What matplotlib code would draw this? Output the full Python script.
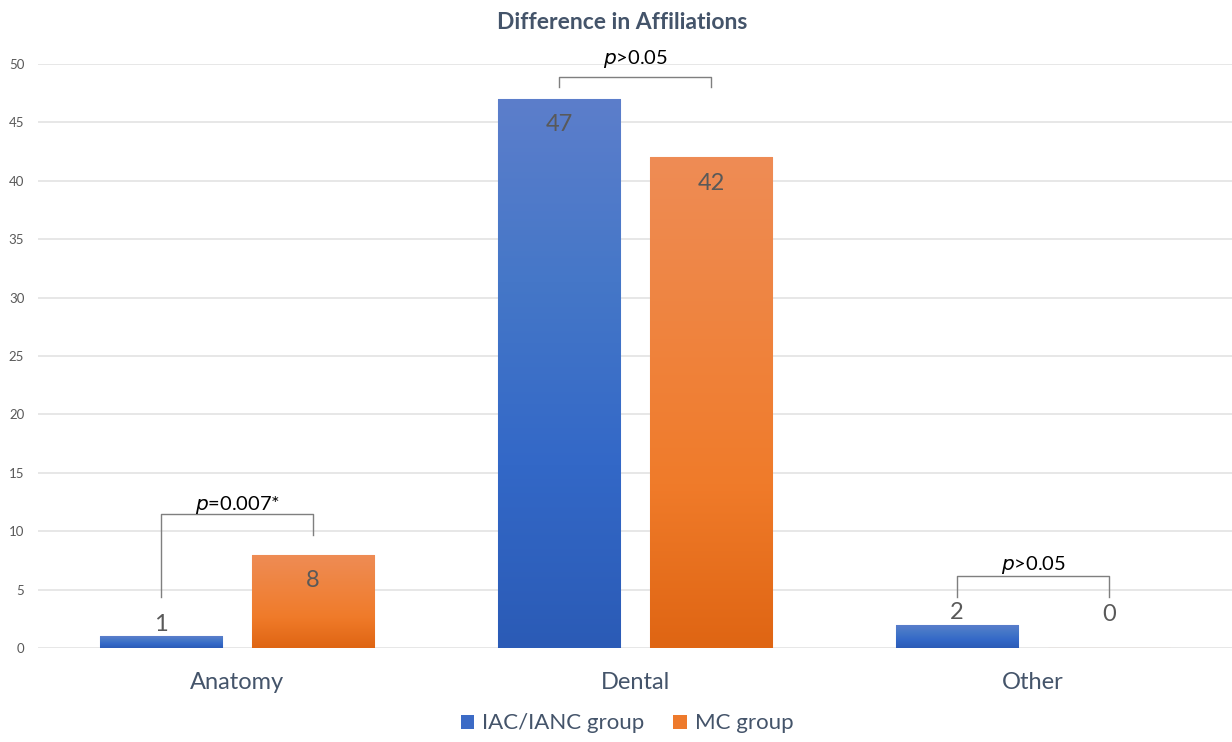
import numpy as np
import matplotlib.pyplot as plt
from matplotlib.colors import LinearSegmentedColormap
from matplotlib.patches import Patch

categories = ["Anatomy", "Dental", "Other"]
series_names = ["IAC/IANC group", "MC group"]
iac_values = [1, 47, 2]
mc_values = [8, 42, 0]
p_labels = ["=0.007*", ">0.05", ">0.05"]

TEXT_DARK = "#44546A"
LABEL_GRAY = "#595959"
GRID = "#E3E3E3"

blue_cmap = LinearSegmentedColormap.from_list(
    "blue_grad", ["#2B5BB6", "#3368C7", "#4577C8", "#5C7ECB"])
orange_cmap = LinearSegmentedColormap.from_list(
    "orange_grad", ["#DF6513", "#F07B2A", "#EF8440", "#EE8C55"])


def gradient_bar(ax, bar, cmap):
    # fill one bar with a vertical gradient, clipped to the bar rectangle
    x0, y0 = bar.get_x(), bar.get_y()
    w, h = bar.get_width(), bar.get_height()
    if h <= 0:
        return
    grad = np.linspace(0, 1, 256).reshape(-1, 1)
    im = ax.imshow(grad, cmap=cmap, origin="lower", aspect="auto",
                   extent=(x0, x0 + w, y0, y0 + h), zorder=2)
    im.set_clip_path(bar)


def main():
    plt.rcParams["font.family"] = ["Lato", "DejaVu Sans"]

    fig = plt.figure(figsize=(12.32, 7.42), dpi=100)
    ax = fig.add_axes([0.031, 0.1267, 0.969, 0.787])

    x = np.arange(len(categories))
    width = 0.307
    offset = 0.191

    bars_a = ax.bar(x - offset, iac_values, width, color="#4472C4",
                    edgecolor="#9DB4E6", linewidth=0.8, zorder=2)
    bars_b = ax.bar(x + offset, mc_values, width, color="#ED7D31",
                    edgecolor="#F5B58C", linewidth=0.8, zorder=2)
    for b in bars_a:
        gradient_bar(ax, b, blue_cmap)
    for b in bars_b:
        gradient_bar(ax, b, orange_cmap)

    ax.set_xlim(-0.5, 2.5)
    ax.set_ylim(0, 50)
    ax.set_yticks(range(0, 51, 5))
    ax.yaxis.grid(True, color=GRID, linewidth=1.2, zorder=0)
    ax.set_axisbelow(True)
    for s in ax.spines.values():
        s.set_visible(False)
    ax.tick_params(axis="both", length=0)
    ax.tick_params(axis="y", labelsize=9.5, labelcolor=LABEL_GRAY, pad=10)
    ax.set_xticks(x)
    ax.set_xticklabels(categories, fontsize=17, color=TEXT_DARK)
    ax.tick_params(axis="x", pad=17)

    # value labels: inside the top for tall bars, above for short ones
    for bars, vals in ((bars_a, iac_values), (bars_b, mc_values)):
        for b, v in zip(bars, vals):
            cx = b.get_x() + b.get_width() / 2
            if v >= 5:
                ty = v - 2.2
            elif v == 0:
                ty = 2.9
            else:
                ty = v + 1.05
            ax.text(cx, ty, str(v), ha="center", va="center",
                    fontsize=17, color=LABEL_GRAY, zorder=4)

    # significance brackets
    bracket_y = [11.47, 48.9, 6.16]
    leg_left = [4.4, 48.0, 4.4]
    leg_right = [9.7, 48.0, 4.4]
    text_y = [11.8, 50.0, 6.68]
    for i in range(len(categories)):
        xl, xr = x[i] - offset, x[i] + offset
        ax.plot([xl, xl, xr, xr],
                [leg_left[i], bracket_y[i], bracket_y[i], leg_right[i]],
                color="#7F7F7F", linewidth=1.0, zorder=3, clip_on=False)
        ax.text(x[i], text_y[i], "$p$" + p_labels[i],
                ha="center", va="baseline", fontsize=14.5, color="black",
                zorder=4, clip_on=False)

    fig.suptitle("Difference in Affiliations", x=0.505, y=0.970,
                 va="center", fontsize=16.5, fontweight="bold",
                 color=TEXT_DARK)

    handles = [Patch(facecolor="#3C6BC6", edgecolor="none"),
               Patch(facecolor="#EE7A2C", edgecolor="none")]
    fig.legend(handles, series_names, loc="center", ncol=2,
               bbox_to_anchor=(0.509, 0.025), frameon=False, fontsize=16,
               labelcolor=TEXT_DARK, handlelength=0.6, handleheight=0.6,
               handletextpad=0.36, columnspacing=1.3)

    fig.savefig("out.png", dpi=100)
    plt.close(fig)


if __name__ == "__main__":
    main()
